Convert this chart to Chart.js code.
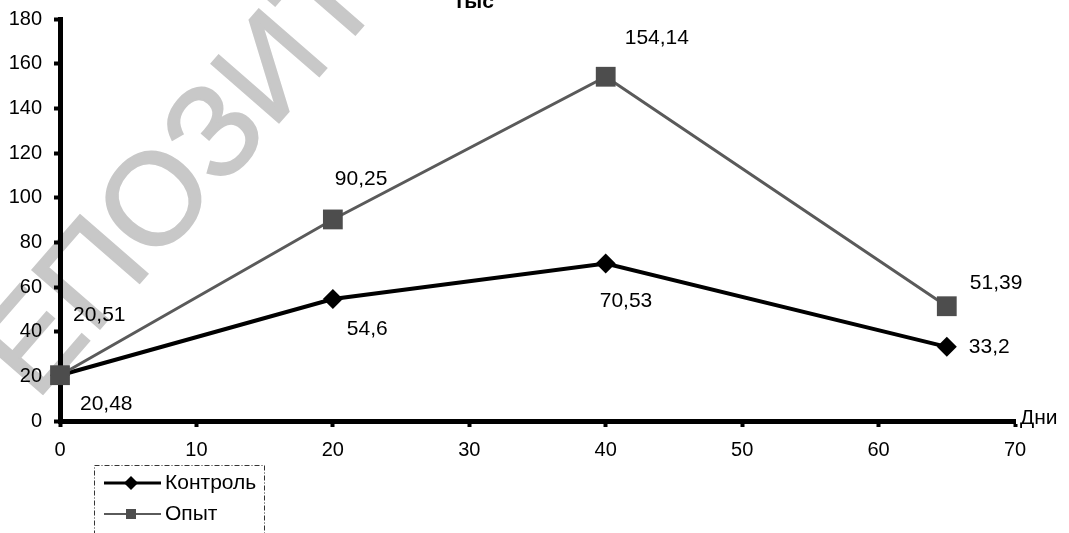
<!DOCTYPE html>
<html>
<head>
<meta charset="utf-8">
<script src="https://cdn.jsdelivr.net/npm/chart.js@4.4.0/dist/chart.umd.min.js"></script>
<style>
    html, body { margin: 0; padding: 0; background: #ffffff; }
    #wrap { width: 1069px; height: 533px; position: relative; }
</style>
</head>
<body>
<div id="wrap"><canvas id="daysChart"></canvas></div>
<script>
// Data
const days = [0, 20, 40, 65];
const controlValues = [20.48, 54.6, 70.53, 33.2];
const trialValues = [20.51, 90.25, 154.14, 51.39];
const seriesNames = ['Контроль', 'Опыт'];
const yTicks = [0, 20, 40, 60, 80, 100, 120, 140, 160, 180];
const xTicks = [0, 10, 20, 30, 40, 50, 60, 70];

// Offsets (px) of each value label from its point
const controlLabelOffsets = [[20, 29], [14, 30], [-6, 38], [22, 0]];
const trialLabelOffsets = [[13, -60], [2, -40], [19, -39], [23, -23]];

const FONT = '"Liberation Sans", Arial, sans-serif';

const fmt = v => String(v).replace('.', ',');

// Watermark, title, axis name
const decorPlugin = {
    id: 'decor',
    beforeDraw(chart) {
        const ctx = chart.ctx;
        ctx.save();
        ctx.translate(36, 402);
        ctx.rotate(-49 * Math.PI / 180);
        ctx.font = '130px ' + FONT;
        ctx.fillStyle = '#c8c8c8';
        ctx.strokeStyle = '#c8c8c8';
        ctx.lineWidth = 2;
        ctx.textBaseline = 'alphabetic';
        ctx.fillText('ЕПОЗИТ', 0, 0);
        ctx.strokeText('ЕПОЗИТ', 0, 0);
        ctx.restore();
    },
    afterDraw(chart) {
        const ctx = chart.ctx;
        const area = chart.chartArea;
        ctx.save();
        ctx.fillStyle = '#000';
        ctx.font = 'bold 21px ' + FONT;
        ctx.textAlign = 'center';
        ctx.textBaseline = 'alphabetic';
        ctx.fillText('тыс', 474, 8);

        ctx.font = '21px ' + FONT;
        ctx.textAlign = 'left';
        ctx.textBaseline = 'middle';
        ctx.fillText('Дни', area.right + 5, area.bottom - 3);
        ctx.restore();
    }
};

// Value labels next to the points
const valueLabelPlugin = {
    id: 'valueLabels',
    afterDatasetsDraw(chart) {
        const ctx = chart.ctx;
        const offsets = [controlLabelOffsets, trialLabelOffsets];
        ctx.save();
        ctx.fillStyle = '#000';
        ctx.font = '21px ' + FONT;
        ctx.textAlign = 'left';
        ctx.textBaseline = 'middle';
        chart.data.datasets.forEach((ds, i) => {
            const meta = chart.getDatasetMeta(i);
            meta.data.forEach((pt, j) => {
                const off = offsets[i][j];
                ctx.fillText(fmt(ds.data[j].y), pt.x + off[0], pt.y + off[1]);
            });
        });
        ctx.restore();
    }
};

// Boxed legend under the x axis
const boxLegendPlugin = {
    id: 'boxLegend',
    afterDraw(chart) {
        const ctx = chart.ctx;
        const left = 94, top = 465, right = 264, bottom = 545;
        ctx.save();
        ctx.strokeStyle = '#333';
        ctx.lineWidth = 1;
        ctx.setLineDash([5, 2, 1, 2]);
        ctx.strokeRect(left + 0.5, top + 0.5, right - left, bottom - top);
        ctx.setLineDash([]);

        const rows = [483, 514];
        chart.data.datasets.forEach((ds, i) => {
            const y = rows[i];
            ctx.strokeStyle = ds.borderColor;
            ctx.lineWidth = i === 0 ? 3 : 2;
            ctx.beginPath();
            ctx.moveTo(104, y);
            ctx.lineTo(161, y);
            ctx.stroke();
            ctx.fillStyle = ds.pointBackgroundColor;
            if (i === 0) {
                ctx.beginPath();
                ctx.moveTo(131 - 7, y);
                ctx.lineTo(131, y - 7);
                ctx.lineTo(131 + 7, y);
                ctx.lineTo(131, y + 7);
                ctx.closePath();
                ctx.fill();
            } else {
                ctx.fillRect(126, y - 5, 10, 10);
            }
            ctx.fillStyle = '#000';
            ctx.font = '21px ' + FONT;
            ctx.textAlign = 'left';
            ctx.textBaseline = 'middle';
            ctx.fillText(ds.label, 165, y);
        });
        ctx.restore();
    }
};

const ctx = document.getElementById('daysChart');
new Chart(ctx, {
    type: 'line',
    data: {
        datasets: [
            {
                label: seriesNames[0],
                data: days.map((d, i) => ({ x: d, y: controlValues[i] })),
                borderColor: '#000000',
                borderWidth: 4,
                pointStyle: 'rectRot',
                pointRadius: 10,
                pointBackgroundColor: '#000000',
                pointBorderWidth: 0,
                tension: 0,
                clip: false,
                order: 2
            },
            {
                label: seriesNames[1],
                data: days.map((d, i) => ({ x: d, y: trialValues[i] })),
                borderColor: '#5a5a5a',
                borderWidth: 3,
                pointStyle: 'rect',
                pointRadius: 14,
                pointBackgroundColor: '#4d4d4d',
                pointBorderWidth: 0,
                tension: 0,
                clip: false,
                order: 1
            }
        ]
    },
    options: {
        responsive: true,
        maintainAspectRatio: false,
        animation: false,
        events: [],
        layout: { padding: { left: 0, right: 54, top: 19, bottom: 0 } },
        plugins: {
            legend: { display: false },
            tooltip: { enabled: false }
        },
        scales: {
            x: {
                type: 'linear',
                min: xTicks[0],
                max: xTicks[xTicks.length - 1],
                afterBuildTicks: s => { s.ticks = xTicks.map(v => ({ value: v })); },
                afterFit: s => { s.height = 112; s.paddingLeft = 0; s.paddingRight = 0; },
                border: { display: true, color: '#000', width: 5 },
                grid: { drawOnChartArea: false, drawTicks: true, tickLength: 6, tickWidth: 4, tickColor: '#000' },
                ticks: { color: '#000', font: { family: FONT, size: 20 }, padding: 11, maxRotation: 0 }
            },
            y: {
                type: 'linear',
                min: yTicks[0],
                max: yTicks[yTicks.length - 1],
                afterBuildTicks: s => { s.ticks = yTicks.map(v => ({ value: v })); },
                afterFit: s => { s.width = 60; s.paddingTop = 0; s.paddingBottom = 0; },
                border: { display: true, color: '#000', width: 5 },
                grid: { drawOnChartArea: false, drawTicks: true, tickLength: 6, tickWidth: 4, tickColor: '#000' },
                ticks: { color: '#000', font: { family: FONT, size: 20 }, padding: 12 }
            }
        }
    },
    plugins: [decorPlugin, valueLabelPlugin, boxLegendPlugin]
});
</script>
</body>
</html>
